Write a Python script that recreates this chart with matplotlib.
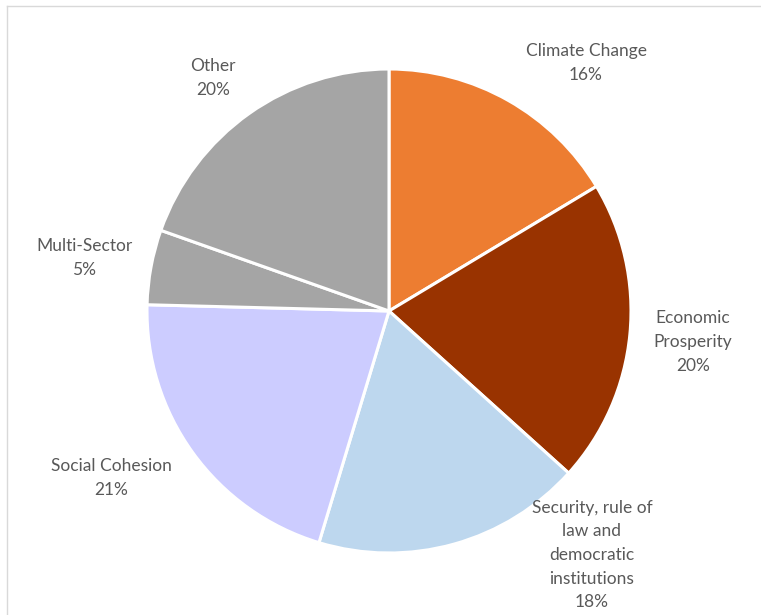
import matplotlib
matplotlib.use("Agg")
import matplotlib.pyplot as plt
from matplotlib.lines import Line2D

labels = ["Climate Change", "Economic\nProsperity", "Security, rule of\nlaw and\ndemocratic\ninstitutions",
          "Social Cohesion", "Multi-Sector", "Other"]
# slice shares (labels show them rounded)
shares = [16.4, 20.3, 18.0, 20.75, 5.0, 19.6]
colors = ["#ED7D31", "#993300", "#BDD7EE", "#CCCCFF", "#A5A5A5", "#A5A5A5"]

# label centres in pixels from the top-left (Excel best-fit placement)
label_pos = [(586, 63), (693, 342), (592, 555), (111, 478), (84, 258), (213, 78)]

W, H = 761, 615
fig = plt.figure(figsize=(W / 100, H / 100), dpi=100)
ax = fig.add_axes([0, 0, 1, 1])

ax.pie(shares, colors=colors, startangle=90, counterclock=False,
       center=(389, H - 311), radius=242, frame=True,
       wedgeprops=dict(edgecolor="white", linewidth=2.2))
ax.set_xlim(0, W)
ax.set_ylim(0, H)
ax.set_aspect("equal")
ax.axis("off")

for lab, s, (x, y) in zip(labels, shares, label_pos):
    ax.text(x, H - y, f"{lab}\n{round(s)}%", ha="center", va="center", fontsize=12.5,
            family="Lato", color="#595959", linespacing=1.58)

# chart area border (top and left edges visible)
fig.add_artist(Line2D([7 / W, 1], [1 - 6 / H, 1 - 6 / H], color="#D9D9D9", lw=1))
fig.add_artist(Line2D([7 / W, 7 / W], [0, 1 - 6 / H], color="#D9D9D9", lw=1))

fig.savefig("out.png", dpi=100)
